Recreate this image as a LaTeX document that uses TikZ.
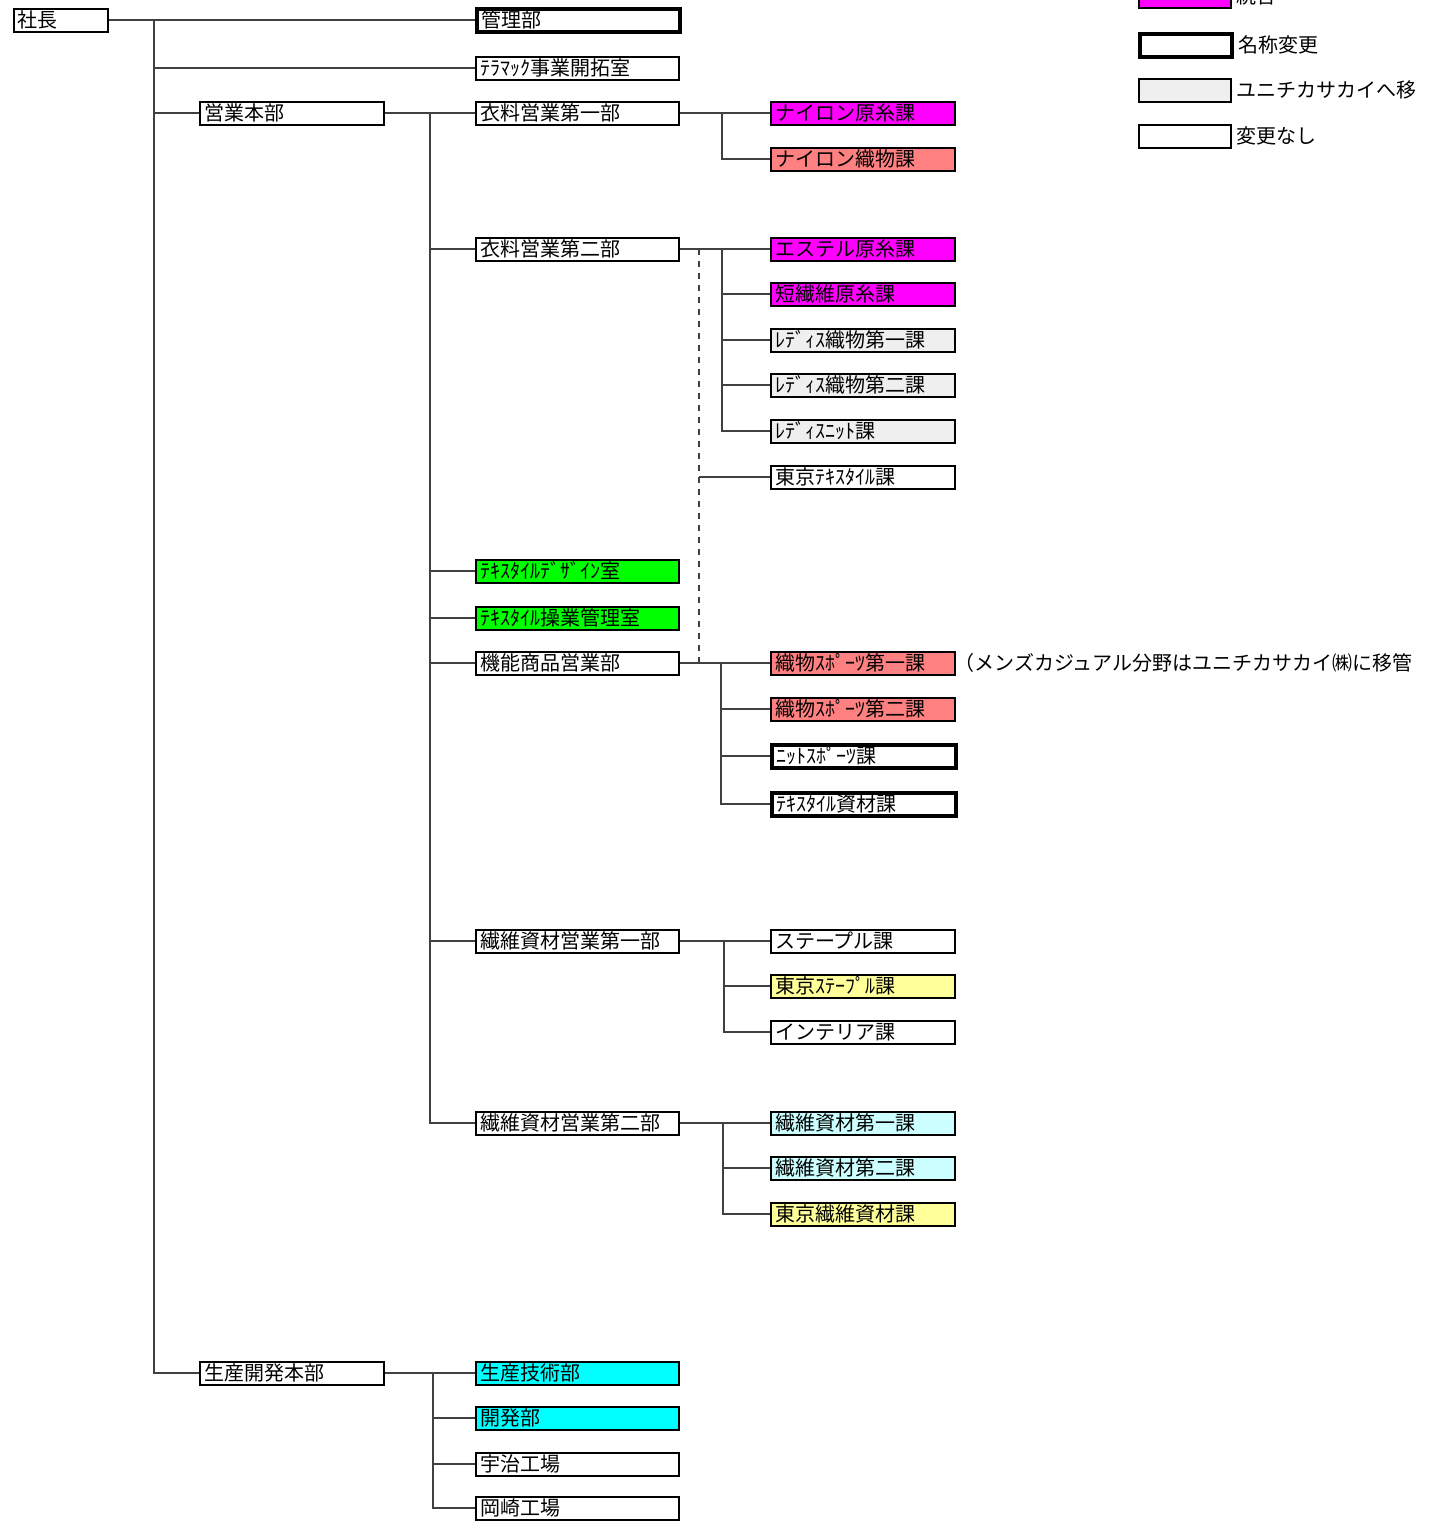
\documentclass[tikz,border=0pt]{standalone}
\usepackage{fontspec}
\setmainfont{Noto Sans CJK JP}
\definecolor{togo}{HTML}{FF00FF}
\definecolor{salmon}{HTML}{FF8080}
\definecolor{ikan}{HTML}{EFEFEF}
\definecolor{midori}{HTML}{00FF00}
\definecolor{kiiro}{HTML}{FFFF99}
\definecolor{usumizu}{HTML}{CCFFFF}
\definecolor{mizu}{HTML}{00FFFF}
\definecolor{linkgray}{HTML}{404040}
\tikzset{org/.style={draw,line width=1pt,anchor=west,inner xsep=2pt,inner ysep=0pt,
           minimum height=11.5pt,text height=8.5pt,text depth=1.5pt,align=left,
           font=\fontsize{10}{10}\selectfont},
         bu/.style={org,text width=97.5pt},
         ka/.style={org,text width=88pt},
         legbox/.style={org,text width=42pt},
         rename/.style={line width=2pt},
         legtext/.style={anchor=west,inner xsep=2pt,font=\fontsize{10}{10}\selectfont},
         link/.style={draw=linkgray,line width=0.7pt}}

\begin{document}
\begin{tikzpicture}[x=0.5pt,y=-0.5pt]
  \useasboundingbox (0,0) rectangle (1450,1521);
  \clip (0,-40) rectangle (1418,1540);
  % top
  \node[org,text width=43pt] (shacho) at (13,20) {社長};
  \node[bu,rename] (kanri) at (475,20) {管理部};
  \node[bu] (tera) at (475,68) {ﾃﾗﾏｯｸ事業開拓室};
  \node[ka] (eigyo) at (199,113) {営業本部};
  \node[ka] (seisan) at (199,1373) {生産開発本部};
  % eigyo honbu
  \node[bu] (iryo1) at (475,113) {衣料営業第一部};
  \node[bu] (iryo2) at (475,249) {衣料営業第二部};
  \node[bu,fill=midori] (design) at (475,571) {ﾃｷｽﾀｲﾙﾃﾞｻﾞｲﾝ室};
  \node[bu,fill=midori] (sogyo) at (475,618) {ﾃｷｽﾀｲﾙ操業管理室};
  \node[bu] (kino) at (475,663) {機能商品営業部};
  \node[bu] (shizai1) at (475,941) {繊維資材営業第一部};
  \node[bu] (shizai2) at (475,1123) {繊維資材営業第二部};
  % ka
  \node[ka,fill=togo] (nylon1) at (770,113) {ナイロン原糸課};
  \node[ka,fill=salmon] (nylon2) at (770,159) {ナイロン織物課};
  \node[ka,fill=togo] (ester) at (770,249) {エステル原糸課};
  \node[ka,fill=togo] (tanseni) at (770,294) {短繊維原糸課};
  \node[ka,fill=ikan] (ladies1) at (770,340) {ﾚﾃﾞｨｽ織物第一課};
  \node[ka,fill=ikan] (ladies2) at (770,385) {ﾚﾃﾞｨｽ織物第二課};
  \node[ka,fill=ikan] (ladiesk) at (770,431) {ﾚﾃﾞｨｽﾆｯﾄ課};
  \node[ka] (tokyotex) at (770,477) {東京ﾃｷｽﾀｲﾙ課};
  \node[ka,fill=salmon] (sports1) at (770,663) {織物ｽﾎﾟｰﾂ第一課};
  \node[ka,fill=salmon] (sports2) at (770,709) {織物ｽﾎﾟｰﾂ第二課};
  \node[ka,rename] (knit) at (770,756) {ﾆｯﾄｽﾎﾟｰﾂ課};
  \node[ka,rename] (texshizai) at (770,804) {ﾃｷｽﾀｲﾙ資材課};
  \node[ka] (staple) at (770,941) {ステープル課};
  \node[ka,fill=kiiro] (tstaple) at (770,986) {東京ｽﾃｰﾌﾟﾙ課};
  \node[ka] (interior) at (770,1032) {インテリア課};
  \node[ka,fill=usumizu] (seni1) at (770,1123) {繊維資材第一課};
  \node[ka,fill=usumizu] (seni2) at (770,1168) {繊維資材第二課};
  \node[ka,fill=kiiro] (tseni) at (770,1214) {東京繊維資材課};
  % seisan kaihatsu honbu
  \node[bu,fill=mizu] (gijutsu) at (475,1373) {生産技術部};
  \node[bu,fill=mizu] (kaihatsu) at (475,1418) {開発部};
  \node[bu] (uji) at (475,1464) {宇治工場};
  \node[bu] (okazaki) at (475,1508) {岡崎工場};
  \node[legtext] (memo) at ([xshift=-3pt]sports1.east) {（メンズカジュアル分野はユニチカサカイ㈱に移管};
  % legend
  \node[legbox,fill=togo] (lg1) at (1138,-4) {};
  \node[legbox,rename] (lg2) at (1138,45) {};
  \node[legbox,fill=ikan] (lg3) at (1138,90) {};
  \node[legbox] (lg4) at (1138,136) {};
  \node[legtext] (lgt1) at (lg1.east) {統合};
  \node[legtext] (lgt2) at (lg2.east) {名称変更};
  \node[legtext] (lgt3) at (lg3.east) {ユニチカサカイへ移};
  \node[legtext] (lgt4) at (lg4.east) {変更なし};

  % connectors
  \coordinate (t0) at ([xshift=22.5pt]shacho.east);
  \draw[link] (shacho.east) -- (kanri.west);
  \draw[link] (t0) |- (seisan.west);
  \foreach \n in {tera,eigyo}
    \draw[link] (\n.west) -- (\n.west -| t0);

  \coordinate (e0) at ([xshift=22.5pt]eigyo.east);
  \draw[link] (eigyo.east) -- (iryo1.west);
  \draw[link] (e0) |- (shizai2.west);
  \foreach \n in {iryo2,design,sogyo,kino,shizai1}
    \draw[link] (\n.west) -- (\n.west -| e0);

  \draw[link] (iryo1.east) -- (nylon1.west);
  \draw[link] ([xshift=21pt]iryo1.east) |- (nylon2.west);

  \coordinate (i2) at ([xshift=21pt]iryo2.east);
  \draw[link] (iryo2.east) -- (ester.west);
  \draw[link] (i2) |- (ladiesk.west);
  \foreach \n in {tanseni,ladies1,ladies2}
    \draw[link] (\n.west) -- (\n.west -| i2);
  \coordinate (d0) at ([xshift=9.5pt]iryo2.east);
  \draw[link,dashed] (d0) -- (d0 |- kino.east);
  \draw[link] (tokyotex.west) -- (tokyotex.west -| d0);

  \coordinate (k0) at ([xshift=20.5pt]kino.east);
  \draw[link] (kino.east) -- (sports1.west);
  \draw[link] (k0) |- (texshizai.west);
  \foreach \n in {sports2,knit}
    \draw[link] (\n.west) -- (\n.west -| k0);

  \coordinate (s1) at ([xshift=22pt]shizai1.east);
  \draw[link] (shizai1.east) -- (staple.west);
  \draw[link] (s1) |- (interior.west);
  \draw[link] (tstaple.west) -- (tstaple.west -| s1);

  \coordinate (s2) at ([xshift=21.5pt]shizai2.east);
  \draw[link] (shizai2.east) -- (seni1.west);
  \draw[link] (s2) |- (tseni.west);
  \draw[link] (seni2.west) -- (seni2.west -| s2);

  \coordinate (p0) at ([xshift=24pt]seisan.east);
  \draw[link] (seisan.east) -- (gijutsu.west);
  \draw[link] (p0) |- (okazaki.west);
  \foreach \n in {kaihatsu,uji}
    \draw[link] (\n.west) -- (\n.west -| p0);
\end{tikzpicture}
\end{document}
